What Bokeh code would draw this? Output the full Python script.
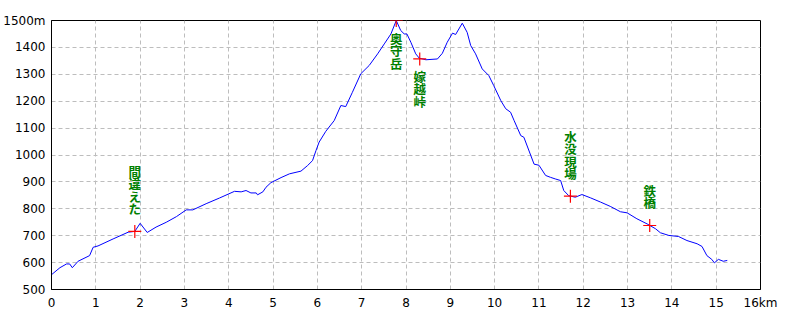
from bokeh.plotting import figure
from bokeh.models import Range1d, FixedTicker, ColumnDataSource
from bokeh.core.properties import value
from bokeh.embed import file_html
from bokeh.resources import INLINE

# ---- data ----
dist_km = [0.0, 0.19, 0.34, 0.41, 0.47, 0.6, 0.86, 0.94, 1.05, 1.39, 1.73, 1.88, 2.0, 2.16, 2.36,
           2.59, 2.82, 3.04, 3.19, 3.49, 3.79, 4.13, 4.28, 4.39, 4.5, 4.62, 4.65, 4.77, 4.84, 4.95,
           5.18, 5.37, 5.63, 5.78, 5.89, 5.97, 6.04, 6.19, 6.38, 6.53, 6.64, 6.79, 6.98, 7.17, 7.36,
           7.51, 7.66, 7.78, 7.88, 7.96, 8.02, 8.11, 8.22, 8.3, 8.45, 8.71, 8.82, 8.93, 9.05, 9.12,
           9.27, 9.38, 9.46, 9.57, 9.72, 9.87, 9.98, 10.14, 10.25, 10.36, 10.44, 10.59, 10.66, 10.89,
           11.0, 11.15, 11.26, 11.37, 11.49, 11.56, 11.67, 11.82, 11.97, 12.16, 12.39, 12.61, 12.84,
           12.99, 13.21, 13.44, 13.63, 13.74, 13.93, 14.15, 14.34, 14.57, 14.68, 14.79, 14.9, 14.96,
           15.05, 15.16, 15.25]
elev_m = [555, 581, 595, 595, 581, 605, 626, 657, 662, 688, 713, 716, 746, 712, 732,
          750, 771, 796, 796, 819, 840, 865, 863, 868, 859, 859, 852, 863, 880, 897,
          916, 930, 940, 961, 979, 1017, 1048, 1088, 1128, 1184, 1180, 1233, 1302, 1333, 1376,
          1413, 1450, 1500, 1463, 1450, 1450, 1419, 1376, 1360, 1354, 1357, 1378, 1419, 1453, 1448,
          1490, 1456, 1407, 1376, 1320, 1295, 1258, 1202, 1172, 1159, 1128, 1072, 1066, 966,
          962, 924, 917, 911, 905, 868, 849, 843, 853, 841, 825, 809, 789,
          785, 763, 744, 726, 711, 701, 697, 682, 670, 660, 626, 612, 599,
          612, 605, 608]

place_names = ["間違えた", "奥守岳", "嫁越峠", "水没現場", "鉄橋"]
place_km = [1.88, 7.78, 8.31, 11.71, 13.5]
place_m = [716, 1500, 1357, 847, 738]

x_ticks = list(range(0, 17))
x_tick_labels = [str(v) for v in x_ticks[:-1]] + ["16km"]
y_ticks = list(range(500, 1501, 100))
y_tick_labels = [str(v) for v in y_ticks[:-1]] + ["1500m"]

# ---- figure ----
p = figure(width=800, height=320, output_backend="svg", toolbar_location=None,
           x_range=Range1d(0, 16), y_range=Range1d(500, 1500),
           min_border_left=50, min_border_right=40, min_border_top=20, min_border_bottom=31)
p.background_fill_color = "white"
p.border_fill_color = "white"
p.outline_line_color = "black"
p.outline_line_width = 1

for g, ticks in ((p.xgrid, x_ticks), (p.ygrid, y_ticks)):
    g.ticker = FixedTicker(ticks=ticks)
    g.grid_line_color = "#bdbdbd"
    g.grid_line_dash = "4 3"
    g.grid_line_width = 1

label_font = "DejaVu Sans"
p.xaxis.ticker = FixedTicker(ticks=x_ticks)
p.yaxis.ticker = FixedTicker(ticks=y_ticks)
p.xaxis.major_label_overrides = {t: l for t, l in zip(x_ticks, x_tick_labels)}
p.yaxis.major_label_overrides = {t: l for t, l in zip(y_ticks, y_tick_labels)}
for ax in (p.xaxis[0], p.yaxis[0]):
    ax.axis_line_color = "black"
    ax.major_tick_line_color = None
    ax.minor_tick_line_color = None
    ax.major_tick_out = 0
    ax.major_tick_in = 0
    ax.major_label_text_font = label_font
    ax.major_label_text_font_size = "12px"
    ax.major_label_text_color = "black"
    ax.major_label_standoff = 6

# profile line
p.line(dist_km, elev_m, line_color="#0000ff", line_width=1)

# markers
p.scatter(place_km, place_m, marker="cross", size=13, line_color="#ff0000", line_width=1.2)

# vertical labels
label_above = [True, False, False, True, True]
offs = [-13 if a else 8 for a in label_above]
src = ColumnDataSource(dict(
    x=place_km, y=place_m,
    text=["\n".join(n) for n in place_names],
    yo=offs,
    base=["bottom" if a else "top" for a in label_above],
))
p.text(x="x", y="y", text="text", source=src, y_offset="yo", text_baseline="base",
       text_align="center", text_font=value("Noto Sans CJK JP"), text_font_size="12.5px",
       text_font_style="bold", text_line_height=0.66, text_color="#008000")

open("out.html", "w").write(file_html(p, INLINE))
